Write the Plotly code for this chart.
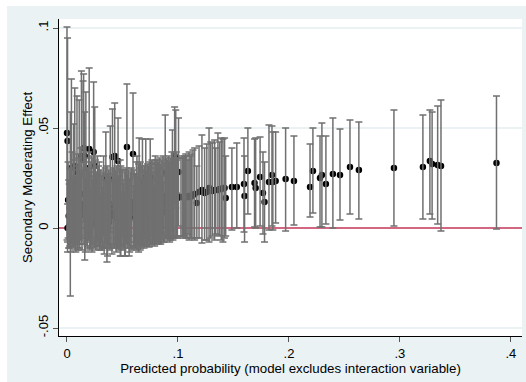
import numpy as np
import plotly.graph_objects as go

# Predicted probability (x), secondary moderating effect (y) and its CI bounds
x_vals = [0.000, 0.0005, 0.001, 0.0005, 0.002, 0.003, 0.004, 0.005, 0.006, 0.007,
          0.008, 0.009, 0.010, 0.011, 0.012,
          0.013, 0.0145, 0.015, 0.016, 0.017, 0.018, 0.019, 0.020, 0.021, 0.022,
          0.023, 0.024, 0.025, 0.026, 0.027, 0.028, 0.029, 0.030,
          0.031, 0.032, 0.033, 0.034, 0.035, 0.036, 0.037, 0.038, 0.039, 0.041,
          0.042, 0.043, 0.044, 0.045, 0.046, 0.047, 0.048, 0.049, 0.050, 0.051,
          0.052, 0.054, 0.055, 0.056, 0.0595, 0.058, 0.060,
          0.061, 0.062, 0.063, 0.064, 0.065, 0.066, 0.067, 0.068, 0.069, 0.070,
          0.071, 0.072, 0.073, 0.074, 0.075, 0.076, 0.077, 0.078, 0.079, 0.080,
          0.081, 0.082, 0.083, 0.084, 0.085, 0.086, 0.087, 0.0885, 0.089, 0.090,
          0.091, 0.092, 0.093, 0.094, 0.095, 0.096, 0.097, 0.098, 0.099,
          0.1005, 0.1027, 0.105, 0.107, 0.109, 0.111, 0.1135, 0.117, 0.1216, 0.124,
          0.128, 0.131, 0.134, 0.136, 0.139, 0.1405, 0.143, 0.1486, 0.153, 0.1595,
          0.160, 0.163, 0.169, 0.170, 0.174, 0.1766, 0.178, 0.182, 0.1847, 0.1855,
          0.188, 0.197, 0.2045, 0.219, 0.2216, 0.228, 0.2297, 0.2333, 0.2396, 0.246,
          0.255, 0.263, 0.2946, 0.3207, 0.327, 0.329, 0.334, 0.337, 0.387]

y_vals = [0.0475, 0.0435, 0.014, 0.000, 0.001, 0.012, 0.030, 0.008, 0.022, 0.031,
          0.005, 0.028, 0.003, 0.026, 0.010,
          0.036, 0.034, 0.040, 0.036, 0.030, 0.006, 0.012, 0.0395, 0.004, 0.015,
          0.008, 0.038, 0.031, 0.002, 0.010, 0.006, 0.014, 0.003,
          0.009, 0.005, 0.016, 0.004, 0.0245, 0.007, 0.011, 0.003, 0.0245, 0.0355,
          0.008, 0.036, 0.005, 0.013, 0.0335, 0.006, 0.010, 0.004, 0.012, 0.007,
          0.002, 0.0405, 0.009, 0.005, 0.037, 0.013, 0.006,
          0.010, 0.004, 0.016, 0.008, 0.023, 0.011, 0.006, 0.018, 0.009, 0.013,
          0.0255, 0.007, 0.011, 0.005, 0.0255, 0.014, 0.008, 0.011, 0.006, 0.016,
          0.009, 0.012, 0.007, 0.013, 0.010, 0.014, 0.008, 0.028, 0.012, 0.015,
          0.011, 0.013, 0.009, 0.016, 0.022, 0.014, 0.036, 0.0345, 0.015,
          0.028, 0.0155, 0.0155, 0.016, 0.0155, 0.0155, 0.0165, 0.0125, 0.019, 0.0175,
          0.020, 0.0185, 0.019, 0.019, 0.0195, 0.020, 0.015, 0.0205, 0.0205, 0.022,
          0.016, 0.0285, 0.0225, 0.020, 0.0255, 0.0175, 0.013, 0.023, 0.0265, 0.023,
          0.0235, 0.0245, 0.0235, 0.0205, 0.0285, 0.025, 0.0265, 0.022, 0.027, 0.0265,
          0.0305, 0.029, 0.030, 0.0305, 0.0335, 0.032, 0.0315, 0.031, 0.0325]

lo_vals = [-0.006, -0.007, -0.005, -0.012, -0.010, -0.034, -0.008, -0.009, -0.006, -0.006,
           -0.012, -0.007, -0.011, -0.008, -0.006,
           -0.008, -0.004, 0.003, -0.016, -0.005, -0.009, -0.006, 0.000, -0.010, -0.005,
           -0.008, 0.004, 0.001, -0.011, -0.007, -0.009, -0.004, -0.010,
           -0.007, -0.009, -0.004, -0.010, 0.001, -0.017, -0.005, -0.010, -0.002, 0.012,
           -0.008, 0.0095, -0.009, -0.005, 0.012, -0.010, -0.014, -0.009, -0.005, -0.008,
           -0.014, 0.009, -0.006, -0.014, 0.0065, -0.004, -0.009,
           -0.007, -0.010, -0.004, -0.008, 0.001, -0.011, -0.009, -0.008, -0.007, -0.005,
           0.006, -0.009, -0.006, -0.0095, 0.007, -0.004, -0.008, -0.006, -0.009, -0.002,
           -0.007, -0.005, -0.008, -0.004, -0.006, -0.003, -0.007, 0.000, -0.005, -0.002,
           -0.005, -0.004, -0.006, -0.001, -0.005, -0.005, 0.012, 0.010, -0.004,
           0.001, -0.004, -0.004, -0.005, -0.003, -0.005, -0.005, -0.005, -0.0075, -0.006,
           -0.007, -0.004, -0.003, -0.0035, -0.006, -0.007, -0.004, -0.001, 0.000, -0.002,
           -0.007, 0.007, 0.0005, 0.000, 0.001, -0.003, -0.007, -0.001, 0.001, -0.001,
           0.0025, -0.0015, 0.0015, 0.0055, 0.0075, 0.0005, 0.0005, 0.002, 0.000, 0.004,
           0.007, 0.0045, 0.001, 0.0045, 0.007, 0.0045, 0.002, -0.0015, -0.0005]

hi_vals = [0.1005, 0.095, 0.033, 0.012, 0.022, 0.058, 0.0745, 0.025, 0.052, 0.070,
           0.022, 0.066, 0.018, 0.064, 0.028,
           0.0785, 0.0735, 0.077, 0.058, 0.068, 0.021, 0.030, 0.080, 0.019, 0.036,
           0.024, 0.073, 0.0605, 0.016, 0.028, 0.022, 0.033, 0.017,
           0.026, 0.020, 0.036, 0.018, 0.048, 0.031, 0.027, 0.016, 0.051, 0.0595,
           0.024, 0.0625, 0.019, 0.031, 0.055, 0.022, 0.034, 0.017, 0.029, 0.022,
           0.018, 0.072, 0.024, 0.024, 0.0675, 0.030, 0.021,
           0.027, 0.018, 0.036, 0.024, 0.045, 0.033, 0.021, 0.0445, 0.025, 0.031,
           0.0445, 0.023, 0.028, 0.019, 0.0445, 0.032, 0.024, 0.028, 0.021, 0.034,
           0.025, 0.029, 0.022, 0.030, 0.026, 0.031, 0.023, 0.0565, 0.029, 0.032,
           0.027, 0.030, 0.024, 0.033, 0.049, 0.033, 0.0605, 0.059, 0.034,
           0.055, 0.035, 0.035, 0.037, 0.034, 0.036, 0.039, 0.031, 0.0465, 0.040,
           0.050, 0.0425, 0.040, 0.0475, 0.045, 0.0445, 0.036, 0.040, 0.0425, 0.045,
           0.036, 0.050, 0.0445, 0.045, 0.0455, 0.038, 0.033, 0.0515, 0.051, 0.048,
           0.048, 0.050, 0.046, 0.042, 0.050, 0.046, 0.0525, 0.046, 0.055, 0.0495,
           0.054, 0.053, 0.059, 0.0565, 0.059, 0.058, 0.061, 0.064, 0.066]

# further observations in the crowded low-probability band
x_more = [0.0015, 0.0025, 0.0035, 0.0045, 0.0055, 0.0065, 0.0075, 0.0085, 0.0095, 0.0105,
          0.0115, 0.0125, 0.0135, 0.0155, 0.0165, 0.0175, 0.0185, 0.0195, 0.0205, 0.0215,
          0.0225, 0.0235, 0.0245, 0.0255, 0.0265, 0.0275, 0.0285, 0.0295, 0.0305, 0.0315,
          0.0325, 0.0335, 0.0345, 0.0355, 0.0365, 0.0375, 0.0385, 0.0395, 0.0405, 0.0415,
          0.0425, 0.0435, 0.0445, 0.0455, 0.0465, 0.0475, 0.0485, 0.0495, 0.0505, 0.0515,
          0.0525, 0.0535, 0.0545, 0.0555, 0.0565, 0.0575, 0.0585, 0.0605, 0.0615, 0.0625,
          0.0635, 0.0645, 0.0655, 0.0665, 0.0675, 0.0685, 0.0695, 0.0705, 0.0715, 0.0725,
          0.0735, 0.0745, 0.0755, 0.0765, 0.0775, 0.0785, 0.0795, 0.0805, 0.0815, 0.0825,
          0.0835, 0.0845, 0.0855, 0.0865, 0.0875, 0.0895, 0.0905, 0.0915, 0.0925, 0.0935,
          0.0945, 0.0955, 0.0965, 0.0975, 0.0985, 0.0995,
          0.104, 0.106, 0.108, 0.110, 0.112, 0.115, 0.119, 0.126, 0.1295, 0.133,
          0.1375, 0.142]

y_more = [0.006, 0.010, 0.004, 0.016, 0.009, 0.012, 0.007, 0.015, 0.010, 0.013,
          0.008, 0.017, 0.009, 0.012, 0.006, 0.014, 0.010, 0.016, 0.008, 0.012,
          0.007, 0.014, 0.010, 0.013, 0.009, 0.015, 0.011, 0.008, 0.011, 0.008,
          0.010, 0.006, 0.012, 0.009, 0.007, 0.011, 0.008, 0.010, 0.006, 0.012,
          0.009, 0.011, 0.007, 0.010, 0.008, 0.012, 0.009, 0.011, 0.007, 0.010,
          0.008, 0.012, 0.009, 0.011, 0.007, 0.010, 0.008, 0.011, 0.009, 0.012,
          0.009, 0.011, 0.012, 0.010, 0.013, 0.011, 0.010, 0.012, 0.011, 0.013,
          0.012, 0.013, 0.011, 0.014, 0.012, 0.013, 0.015, 0.012, 0.014, 0.013,
          0.015, 0.012, 0.014, 0.016, 0.013, 0.015, 0.014, 0.016, 0.013, 0.015,
          0.017, 0.014, 0.016, 0.015, 0.017, 0.015,
          0.0155, 0.016, 0.0155, 0.016, 0.016, 0.017, 0.018, 0.018, 0.019, 0.019,
          0.0195, 0.020]

lo_more = [-0.010, -0.009, -0.012, -0.006, -0.010, -0.009, -0.011, -0.007, -0.010, -0.008,
           -0.010, -0.005, -0.011, -0.008, -0.012, -0.007, -0.010, -0.006, -0.011, -0.009,
           -0.012, -0.007, -0.010, -0.008, -0.009, -0.006, -0.009, -0.011, -0.009, -0.011,
           -0.010, -0.013, -0.008, -0.010, -0.014, -0.009, -0.011, -0.010, -0.013, -0.008,
           -0.010, -0.009, -0.012, -0.010, -0.011, -0.008, -0.014, -0.009, -0.011, -0.010,
           -0.014, -0.008, -0.010, -0.009, -0.012, -0.010, -0.011, -0.009, -0.010, -0.011,
           -0.009, -0.012, -0.008, -0.010, -0.007, -0.009, -0.010, -0.008, -0.009, -0.008,
           -0.007, -0.009, -0.008, -0.006, -0.008, -0.007, -0.006, -0.008, -0.006, -0.007,
           -0.005, -0.008, -0.006, -0.004, -0.007, -0.005, -0.006, -0.004, -0.007, -0.005,
           -0.004, -0.006, -0.005, -0.005, -0.004, -0.005,
           -0.005, -0.004, -0.005, -0.006, -0.005, -0.006, -0.005, -0.006, -0.005, -0.006,
           -0.004, -0.005]

hi_more = [0.024, 0.030, 0.021, 0.038, 0.029, 0.034, 0.026, 0.037, 0.031, 0.035,
           0.027, 0.040, 0.029, 0.033, 0.025, 0.035, 0.030, 0.038, 0.028, 0.033,
           0.026, 0.035, 0.030, 0.034, 0.027, 0.036, 0.031, 0.027, 0.029, 0.026,
           0.028, 0.024, 0.030, 0.027, 0.027, 0.029, 0.026, 0.028, 0.024, 0.030,
           0.027, 0.029, 0.025, 0.028, 0.026, 0.030, 0.031, 0.029, 0.024, 0.028,
           0.029, 0.030, 0.027, 0.029, 0.025, 0.028, 0.026, 0.029, 0.027, 0.033,
           0.026, 0.032, 0.030, 0.028, 0.031, 0.029, 0.028, 0.030, 0.029, 0.032,
           0.031, 0.033, 0.030, 0.034, 0.032, 0.033, 0.036, 0.032, 0.034, 0.033,
           0.035, 0.032, 0.034, 0.036, 0.033, 0.035, 0.034, 0.036, 0.033, 0.035,
           0.038, 0.034, 0.037, 0.035, 0.038, 0.035,
           0.036, 0.036, 0.036, 0.038, 0.037, 0.040, 0.041, 0.042, 0.043, 0.044,
           0.043, 0.045]

y_tick_vals = [-0.05, 0, 0.05, 0.1]
y_tick_text = ["-.05", "0", ".05", ".1"]
x_tick_vals = [0, 0.1, 0.2, 0.3, 0.4]
x_tick_text = ["0", ".1", ".2", ".3", ".4"]
x_range = [-0.0072, 0.41]
y_range = [-0.054, 0.1045]

xs = np.array(x_vals + x_more)
ys = np.array(y_vals + y_more)
los = np.array(lo_vals + lo_more)
his = np.array(hi_vals + hi_more)
assert len(xs) == len(ys) == len(los) == len(his)
err_plus = his - ys
err_minus = ys - los

FONT = "Liberation Sans, Arial, sans-serif"
OUTER = "#EAF2F3"

fig = go.Figure()
# zero reference line (beneath the marks)
fig.add_trace(go.Scatter(x=x_range, y=[0, 0], mode="lines",
                         line=dict(color="#C8385A", width=1.6),
                         hoverinfo="skip", showlegend=False))
# point estimates (drawn first, the capped bars go over them)
fig.add_trace(go.Scatter(
    x=xs, y=ys, mode="markers",
    marker=dict(color="black", size=6.5, line=dict(width=0)),
    hoverinfo="skip", showlegend=False))
# capped confidence spikes
fig.add_trace(go.Scatter(
    x=xs, y=ys, mode="markers",
    marker=dict(color="rgba(0,0,0,0)", size=1),
    error_y=dict(type="data", symmetric=False, array=err_plus, arrayminus=err_minus,
                 color="#707070", thickness=1.5, width=3.5),
    hoverinfo="skip", showlegend=False))

shapes = [
    # white outer margins (left and top)
    dict(type="rect", xref="paper", yref="paper", x0=-0.2, x1=-0.1123, y0=-0.2, y1=1.2,
         fillcolor="white", line=dict(width=0), layer="below"),
    dict(type="rect", xref="paper", yref="paper", x0=-0.2, x1=1.1, y0=1.041, y1=1.2,
         fillcolor="white", line=dict(width=0), layer="below"),
]

fig.update_layout(
    width=526, height=382,
    margin=dict(l=59, r=4, t=19, b=46, autoexpand=False),
    paper_bgcolor=OUTER, plot_bgcolor="white",
    font=dict(family=FONT, size=12, color="black"),
    shapes=shapes,
    showlegend=False,
    xaxis=dict(
        range=x_range, tickvals=x_tick_vals, ticktext=x_tick_text, automargin=False,
        showgrid=False, zeroline=False, showline=True, linecolor="black", linewidth=1,
        ticks="outside", ticklen=5, tickcolor="#555555", tickwidth=1,
        tickfont=dict(family=FONT, size=13),
        title=dict(text="Predicted probability (model excludes interaction variable)",
                   font=dict(family=FONT, size=13.3), standoff=3),
    ),
    yaxis=dict(
        range=y_range, tickvals=y_tick_vals, ticktext=y_tick_text, automargin=False,
        showgrid=True, gridcolor=OUTER, gridwidth=1.5,
        zeroline=False, showline=True, linecolor="black", linewidth=1,
        ticks="outside", ticklen=5, tickcolor="#555555", tickwidth=1,
        tickangle=-90, tickfont=dict(family=FONT, size=13),
        title=dict(text="Secondary Moderating Effect",
                   font=dict(family=FONT, size=13.3), standoff=0),
    ),
)

fig.write_html("out.html", config={"displayModeBar": False},
               post_script="document.body.style.margin='0';")
